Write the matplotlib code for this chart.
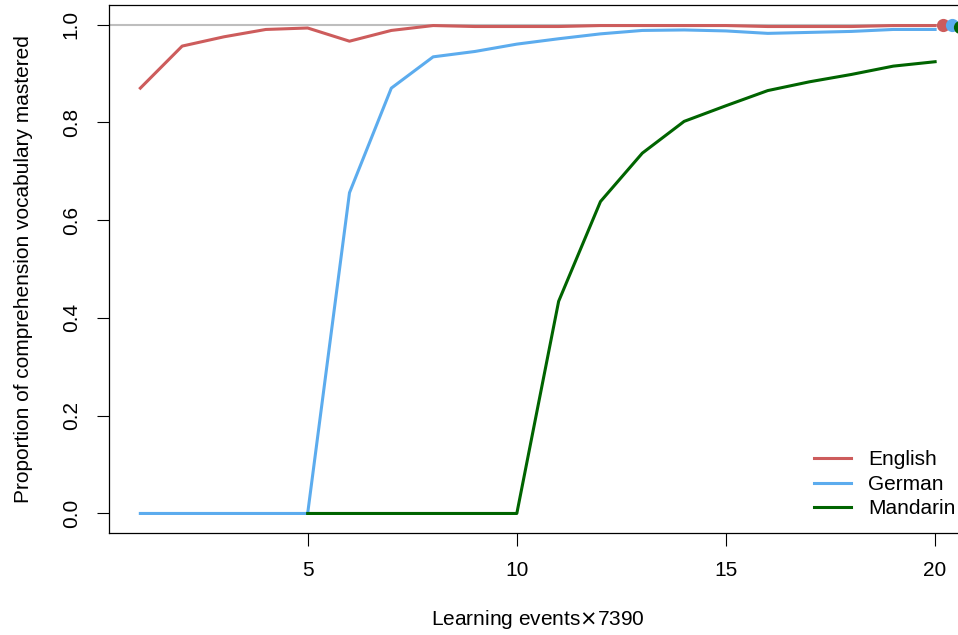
import numpy as np
import matplotlib
matplotlib.use("Agg")
import matplotlib.pyplot as plt

plt.rcParams['font.family'] = ['Liberation Sans', 'DejaVu Sans']

# learning events (x 7390)
events = list(range(1, 21))

english = [0.870, 0.956, 0.975, 0.990, 0.993, 0.966, 0.988, 0.998, 0.996, 0.996,
           0.996, 0.998, 0.998, 0.998, 0.998, 0.996, 0.996, 0.996, 0.998, 0.998]
german = [0.0, 0.0, 0.0, 0.0, 0.0, 0.656, 0.870, 0.934, 0.945, 0.960,
          0.971, 0.981, 0.988, 0.989, 0.987, 0.982, 0.984, 0.986, 0.990, 0.990]
# mandarin starts at event 5
mandarin_x = list(range(5, 21))
mandarin = [0.0, 0.0, 0.0, 0.0, 0.0, 0.0, 0.434, 0.638, 0.737, 0.802,
            0.834, 0.865, 0.883, 0.898, 0.915, 0.924]

# end-state markers, drawn just past the last event
final_x = [20.2, 20.4, 20.6]
final_vals = [1.0, 1.0, 0.996]

names = ['English', 'German', 'Mandarin']
colors = ['#CD5C5C', '#5CACEE', '#006400']

fig = plt.figure(figsize=(9.58, 6.35), dpi=100)
# plot region runs off the right edge like the original
ax = fig.add_axes([0.1133, 0.1606, 0.896, 0.8315])

ax.axhline(1.0, color='#BEBEBE', lw=1.5, zorder=1)

ax.plot(events, english, color=colors[0], lw=2.2, label=names[0])
ax.plot(events, german, color=colors[1], lw=2.2, label=names[1])
ax.plot(mandarin_x, mandarin, color=colors[2], lw=2.2, label=names[2])

for fx, fv, c in zip(final_x, final_vals, colors):
    ax.plot([fx], [fv], 'o', color=c, ms=9.5, mec='none', zorder=5)

ax.set_xlim(0.24, 20.76)
ax.set_ylim(-0.04, 1.04)

ax.set_xticks([5, 10, 15, 20])
ax.set_yticks([0.0, 0.2, 0.4, 0.6, 0.8, 1.0])
ax.set_yticklabels(['0.0', '0.2', '0.4', '0.6', '0.8', '1.0'], rotation=90, va='center')
ax.tick_params(length=9, width=0.8, pad=11, labelsize=15)

for s in ax.spines.values():
    s.set_linewidth(0.9)

ax.set_xlabel('Learning events$\\times$7390', fontsize=15, labelpad=20)
ax.set_ylabel('Proportion of comprehension vocabulary mastered', fontsize=15, labelpad=21)

ax.legend(loc='lower right', frameon=False, fontsize=15, handlelength=1.75,
          handletextpad=0.85, labelspacing=0.27, borderaxespad=0.3,
          bbox_to_anchor=(1.004, 0.0))

fig.savefig('out.png', dpi=100)
